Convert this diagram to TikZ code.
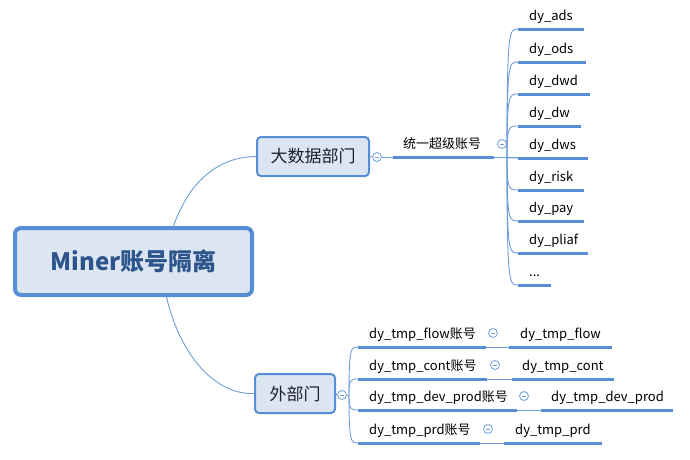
\documentclass[tikz,border=0pt]{standalone}
\usepackage{fontspec}
\setmainfont{Noto Sans CJK SC}
\definecolor{ln}{RGB}{86,141,212}
\definecolor{thinln}{RGB}{110,158,218}
\definecolor{bx}{RGB}{220,230,242}
\definecolor{roottxt}{RGB}{46,84,140}
\definecolor{depttxt}{RGB}{30,30,50}
\newcommand\myellip{...}
\begin{document}
\begin{tikzpicture}[x=1pt,y=-1pt,
  rootbox/.style={draw=ln,line width=4pt,fill=bx,rounded corners=6pt,minimum width=237pt,minimum height=67pt,inner sep=0pt,text=roottxt,font=\fontsize{24}{28}\selectfont\bfseries},
  deptbox/.style={draw=ln,line width=2pt,fill=bx,rounded corners=4pt,minimum height=39pt,inner sep=0pt,text=depttxt,font=\fontsize{17}{20}\selectfont},
  leaf/.style={anchor=base west,inner sep=0pt,font=\fontsize{13}{15}\selectfont,text=black},
  uline/.style={draw=ln,line width=3pt},
  conn/.style={draw=thinln,line width=0.9pt},
  collapse/.style={circle,draw=thinln,fill=white,line width=0.8pt,minimum size=9pt,inner sep=0pt,
    path picture={\draw[thinln,line width=0.8pt] ([xshift=-2.2pt]path picture bounding box.center) -- ([xshift=2.2pt]path picture bounding box.center);}}
]
\useasboundingbox (0,0) rectangle (690,459);

% root and departments
\node[rootbox] (root) at (133.5,261.5) {Miner账号隔离};
\node[deptbox,minimum width=112pt] (bd) at (313,156.5) {大数据部门};
\node[deptbox,minimum width=80pt] (wb) at (295,393.5) {外部门};

\draw[conn] ([xshift=40pt]root.north) .. controls (188,185) and (215,157) .. (bd.west);
\draw[conn] ([xshift=33pt]root.south) .. controls (180,355) and (215,395) .. (wb.west);

% upper branch
\node[collapse] (c1) at (377,157) {};
\coordinate (m1L) at (393,157);
\coordinate (m1R) at (494,157);
\coordinate (s1) at (507,157);
\coordinate (s1e) at (518,157);
\draw[conn] (bd.east) -- (c1.west);
\draw[conn] (c1.east) -- (m1L);
\draw[uline] (m1L) -- (m1R);
\draw[conn] (m1R) -- (s1e);
\node[leaf] (mid) at (403,148) {统一超级账号};
\node[collapse] (c1b) at (502,144) {};

\foreach \n/\t/\y/\r in {a/dy\_ads/29/584, b/dy\_ods/62/586, c/dy\_dwd/94/590, d/dy\_dw/126/581, e/dy\_dws/158/588, f/dy\_risk/190/584, g/dy\_pay/221/584, h/dy\_pliaf/253/588, i/\myellip/285/551}{
  \coordinate (uL\n) at (518,\y);
  \coordinate (uR\n) at (\r,\y);
  \draw[conn] (s1) .. controls (507,\y) and (509,\y) .. (uL\n);
  \draw[uline] (uL\n) -- (uR\n);
  \node[leaf] (t\n) at (529,{\y-9}) {\t};
}

% lower branch
\node[collapse] (c2) at (342,395) {};
\coordinate (s2) at (349,395);
\draw[conn] (wb.east) -- (c2.west);
\draw[conn] (c2.east) -- (s2);

\foreach \n/\ta/\tb/\y/\la/\cx/\lb/\rb/\xb in {
  p/dy\_tmp\_flow账号/dy\_tmp\_flow/347/486/493/509/612/520,
  q/dy\_tmp\_cont账号/dy\_tmp\_cont/379/487/495/512/614/522,
  r/dy\_tmp\_dev\_prod账号/dy\_tmp\_dev\_prod/410/517/524/541/673/551,
  s/dy\_tmp\_prd账号/dy\_tmp\_prd/443/480/488/504/602/515}{
  \coordinate (aL\n) at (358,\y);
  \coordinate (aR\n) at (\la,\y);
  \coordinate (bL\n) at (\lb,\y);
  \coordinate (bR\n) at (\rb,\y);
  \draw[conn] (s2) .. controls (349,\y) and (351,\y) .. (aL\n);
  \draw[uline] (aL\n) -- (aR\n);
  \draw[conn] (aR\n) -- (bL\n);
  \draw[uline] (bL\n) -- (bR\n);
  \node[leaf] (ta\n) at (369,{\y-9}) {\ta};
  \node[leaf] (tb\n) at (\xb,{\y-9}) {\tb};
  \node[collapse] (cc\n) at (\cx,{\y-14}) {};
}
\end{tikzpicture}
\end{document}
